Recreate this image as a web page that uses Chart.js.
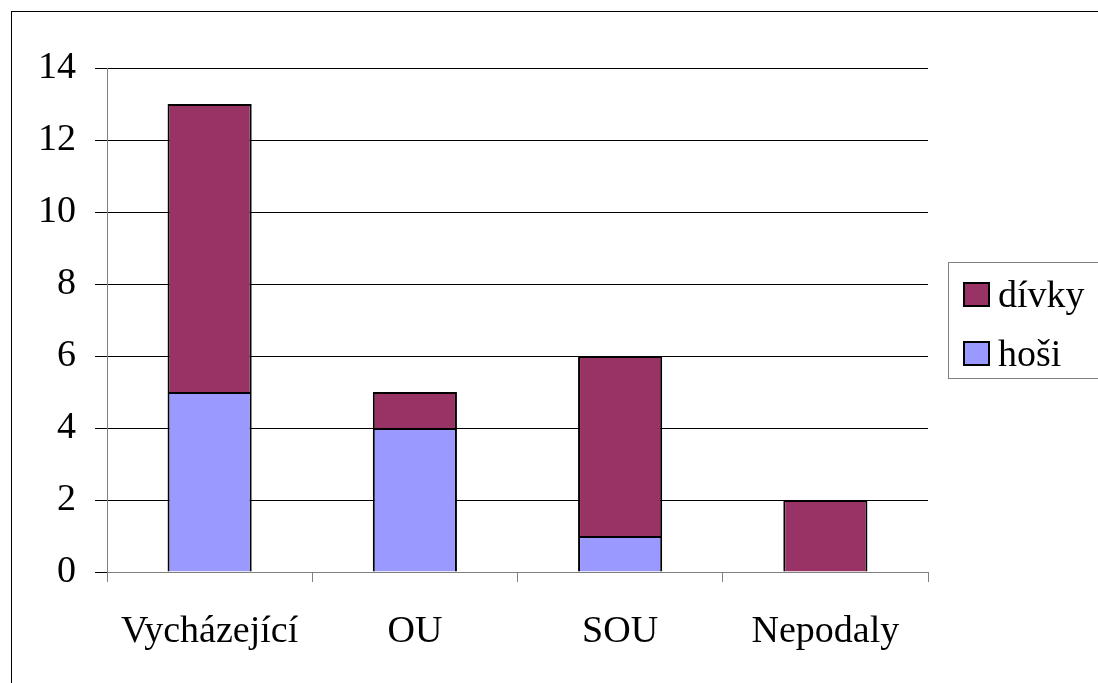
<!DOCTYPE html>
<html lang="cs">
<head>
    <meta charset="UTF-8">
    <title>Graf</title>
    <script src="https://cdn.jsdelivr.net/npm/chart.js"></script>
    <style>
        body { margin: 0; background: #fff; }
        #wrap { position: relative; width: 1098px; height: 683px; overflow: hidden; }
        #frame { position: absolute; left: 11px; top: 11px; width: 1200px; height: 800px; border: 1px solid #000; box-sizing: border-box; }
        #legend { position: absolute; left: 948px; top: 262px; width: 200px; height: 117px; border: 1px solid #808080; box-sizing: border-box; font-family: "Liberation Serif", serif; font-size: 38px; }
        .sw { position: absolute; left: 14px; width: 27px; height: 25px; border: 2px solid #000; box-sizing: border-box; }
        .txt { position: absolute; left: 49px; line-height: 38px; }
        canvas { position: absolute; left: 0; top: 0; }
    </style>
</head>
<body>
<div id="wrap">
    <div id="frame"></div>
    <canvas id="myChart" width="1098" height="683"></canvas>
    <div id="legend"></div>
</div>
<script>
    var categories = ['Vycházející', 'OU', 'SOU', 'Nepodaly'];
    var hosi = [5, 4, 1, 0];
    var divky = [8, 1, 5, 2];
    var yTicks = [0, 2, 4, 6, 8, 10, 12, 14];

    var fnt = { family: 'Liberation Serif', size: 38 };

    var chartInstance = new Chart(document.getElementById('myChart').getContext('2d'), {
        type: 'bar',
        data: {
            labels: categories,
            datasets: [{
                label: 'hoši',
                data: hosi,
                backgroundColor: '#9999ff',
                borderColor: '#000',
                borderWidth: 2,
                barPercentage: 0.41,
                categoryPercentage: 1
            }, {
                label: 'dívky',
                data: divky,
                backgroundColor: '#993366',
                borderColor: '#000',
                borderWidth: 2,
                barPercentage: 0.41,
                categoryPercentage: 1
            }]
        },
        options: {
            responsive: false,
            animation: false,
            layout: { padding: { left: 0, right: 170, top: 68, bottom: 0 } },
            plugins: { legend: { display: false }, tooltip: { enabled: false } },
            scales: {
                x: {
                    stacked: true,
                    grid: { drawOnChartArea: false, drawTicks: true, tickLength: 10, color: '#808080', lineWidth: 1 },
                    border: { color: '#808080', width: 1 },
                    ticks: { font: fnt, color: '#000', padding: 27, maxRotation: 0 },
                    afterFit: function(s) { s.height = 683 - 572; }
                },
                y: {
                    stacked: true,
                    min: 0,
                    max: 14,
                    afterBuildTicks: function(s) { s.ticks = yTicks.map(function(v) { return { value: v }; }); },
                    grid: { color: '#000', lineWidth: 1, tickLength: 12 },
                    border: { color: '#808080', width: 1 },
                    ticks: { font: fnt, color: '#000', padding: 19 },
                    afterFit: function(s) { s.width = 107; }
                }
            }
        }
    });

    // legenda - dívky nahoře, hoši dole
    var leg = document.getElementById('legend');
    var swTops = [19, 78];
    var order = [1, 0];
    order.forEach(function(idx, i) {
        var ds = chartInstance.data.datasets[idx];
        var sw = document.createElement('div');
        sw.className = 'sw';
        sw.style.top = swTops[i] + 'px';
        sw.style.background = ds.backgroundColor;
        var tx = document.createElement('div');
        tx.className = 'txt';
        tx.style.top = (swTops[i] - 7) + 'px';
        tx.textContent = ds.label;
        leg.appendChild(sw);
        leg.appendChild(tx);
    });
</script>
</body>
</html>
